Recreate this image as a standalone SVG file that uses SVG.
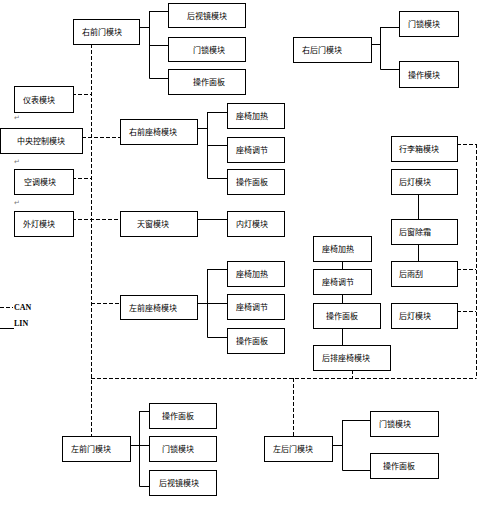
<svg xmlns="http://www.w3.org/2000/svg" width="486" height="515" viewBox="0 0 486 515">
<style>
.b{fill:#fff;stroke:#000;stroke-width:1}
.t{font-family:"Noto Sans CJK SC","Noto Sans",sans-serif;font-size:8px;fill:#000}
.can{stroke:#000;stroke-width:1;stroke-dasharray:4 2;fill:none}
.lin{stroke:#000;stroke-width:1;fill:none}
.lg{font-family:"Liberation Serif",serif;font-size:8px;font-weight:bold;fill:#000}
.pm{font-family:"DejaVu Sans",sans-serif;font-size:7px;fill:#777}
</style>
<rect width="486" height="515" fill="#fff"/>
<g id="connectors">
<path class="can" d="M91.5 44V436M72 94.5H91M82 137.5H120M72 178.5H91M72 219.5H120M91 303.5H120M91 378.5H476.5M476.5 144V378M457 144.5H476M457 269.5H476M457 311.5H476M352.5 370V378M293.5 378V436M0 307.5H13"/>
<path class="lin" d="M139 27.5H149.5M149.5 11V78.5M149.5 11.5H168M149.5 45.5H168M149.5 78.5H168
M371 44.5H380.5M380.5 27V69.5M380.5 27.5H399M380.5 69.5H399
M197 128.5H207.5M207.5 112V178.5M207.5 112.5H227M207.5 145.5H227M207.5 178.5H227
M197 219.5H227
M197 303.5H207.5M207.5 269V337.5M207.5 269.5H227M207.5 303.5H227M207.5 337.5H227
M418.5 194V219M418.5 244V261
M342.5 261V269M342.5 294V303M342.5 328V345
M130 445.5H139.5M139.5 411V486.5M139.5 411.5H149M139.5 445.5H149M139.5 486.5H149
M332 445.5H342.5M342.5 420V470.5M342.5 420.5H370M342.5 470.5H370
M0 328.5H14"/>
</g>
<g id="legend">
<text class="lg" x="14" y="310">CAN</text>
<text class="lg" x="14" y="325.5">LIN</text>
</g>
<g id="marks">
<text class="pm" x="14" y="120">↵</text>
<text class="pm" x="14" y="164">↵</text>
<text class="pm" x="14" y="205">↵</text>
</g>
<g id="rfd"><rect class="b" x="73.5" y="19.5" width="66" height="25"/><text class="t" x="82" y="35">右前门模块</text></g>
<g id="rfd_mirror"><rect class="b" x="168.5" y="3.5" width="77" height="24"/><text class="t" x="187" y="19">后视镜模块</text></g>
<g id="rfd_lock"><rect class="b" x="168.5" y="37.5" width="77" height="24"/><text class="t" x="193" y="53">门锁模块</text></g>
<g id="rfd_panel"><rect class="b" x="168.5" y="69.5" width="77" height="25"/><text class="t" x="193" y="85">操作面板</text></g>
<g id="rrd"><rect class="b" x="293.5" y="37.5" width="78" height="25"/><text class="t" x="302" y="53">右后门模块</text></g>
<g id="rrd_lock"><rect class="b" x="399.5" y="11.5" width="59" height="25"/><text class="t" x="408" y="27">门锁模块</text></g>
<g id="rrd_op"><rect class="b" x="399.5" y="61.5" width="59" height="26"/><text class="t" x="408" y="78">操作模块</text></g>
<g id="instrument"><rect class="b" x="14.5" y="86.5" width="59" height="26"/><text class="t" x="23" y="103">仪表模块</text></g>
<g id="central"><rect class="b" x="0.5" y="128.5" width="82" height="25"/><text class="t" x="17" y="144">中央控制模块</text></g>
<g id="ac"><rect class="b" x="14.5" y="169.5" width="59" height="25"/><text class="t" x="24" y="185">空调模块</text></g>
<g id="extlight"><rect class="b" x="14.5" y="211.5" width="59" height="25"/><text class="t" x="23" y="227">外灯模块</text></g>
<g id="rfs"><rect class="b" x="120.5" y="119.5" width="77" height="25"/><text class="t" x="129" y="135">右前座椅模块</text></g>
<g id="rfs_heat"><rect class="b" x="227.5" y="103.5" width="57" height="25"/><text class="t" x="236" y="119">座椅加热</text></g>
<g id="rfs_adj"><rect class="b" x="227.5" y="137.5" width="57" height="25"/><text class="t" x="236" y="153">座椅调节</text></g>
<g id="rfs_panel"><rect class="b" x="227.5" y="169.5" width="57" height="25"/><text class="t" x="236" y="185">操作面板</text></g>
<g id="sunroof"><rect class="b" x="120.5" y="211.5" width="77" height="25"/><text class="t" x="137" y="227">天窗模块</text></g>
<g id="intlight"><rect class="b" x="227.5" y="211.5" width="57" height="25"/><text class="t" x="236" y="227">内灯模块</text></g>
<g id="lfs"><rect class="b" x="120.5" y="295.5" width="77" height="24"/><text class="t" x="129" y="311">左前座椅模块</text></g>
<g id="lfs_heat"><rect class="b" x="227.5" y="261.5" width="57" height="25"/><text class="t" x="236" y="277">座椅加热</text></g>
<g id="lfs_adj"><rect class="b" x="227.5" y="294.5" width="57" height="25"/><text class="t" x="236" y="310">座椅调节</text></g>
<g id="lfs_panel"><rect class="b" x="227.5" y="328.5" width="57" height="25"/><text class="t" x="236" y="344">操作面板</text></g>
<g id="trunk"><rect class="b" x="391.5" y="136.5" width="66" height="25"/><text class="t" x="399" y="152">行李箱模块</text></g>
<g id="rearlight1"><rect class="b" x="391.5" y="169.5" width="66" height="25"/><text class="t" x="399" y="185">后灯模块</text></g>
<g id="defrost"><rect class="b" x="391.5" y="219.5" width="66" height="25"/><text class="t" x="399" y="235">后窗除霜</text></g>
<g id="wiper"><rect class="b" x="391.5" y="261.5" width="66" height="25"/><text class="t" x="399" y="277">后雨刮</text></g>
<g id="rearlight2"><rect class="b" x="391.5" y="303.5" width="66" height="25"/><text class="t" x="399" y="319">后灯模块</text></g>
<g id="rs_heat"><rect class="b" x="313.5" y="236.5" width="58" height="25"/><text class="t" x="322" y="252">座椅加热</text></g>
<g id="rs_adj"><rect class="b" x="313.5" y="269.5" width="58" height="25"/><text class="t" x="322" y="285">座椅调节</text></g>
<g id="rs_panel"><rect class="b" x="313.5" y="303.5" width="67" height="25"/><text class="t" x="326" y="319">操作面板</text></g>
<g id="rs"><rect class="b" x="313.5" y="345.5" width="77" height="25"/><text class="t" x="322" y="361">后排座椅模块</text></g>
<g id="lfd"><rect class="b" x="62.5" y="436.5" width="68" height="25"/><text class="t" x="71" y="452">左前门模块</text></g>
<g id="lfd_panel"><rect class="b" x="149.5" y="403.5" width="67" height="25"/><text class="t" x="162" y="419">操作面板</text></g>
<g id="lfd_lock"><rect class="b" x="149.5" y="436.5" width="67" height="25"/><text class="t" x="162" y="452">门锁模块</text></g>
<g id="lfd_mirror"><rect class="b" x="149.5" y="470.5" width="67" height="25"/><text class="t" x="159" y="486">后视镜模块</text></g>
<g id="lrd"><rect class="b" x="264.5" y="436.5" width="68" height="25"/><text class="t" x="273" y="452">左后门模块</text></g>
<g id="lrd_lock"><rect class="b" x="370.5" y="411.5" width="68" height="25"/><text class="t" x="379" y="427">门锁模块</text></g>
<g id="lrd_panel"><rect class="b" x="370.5" y="453.5" width="68" height="25"/><text class="t" x="383" y="469">操作面板</text></g>
</svg>
